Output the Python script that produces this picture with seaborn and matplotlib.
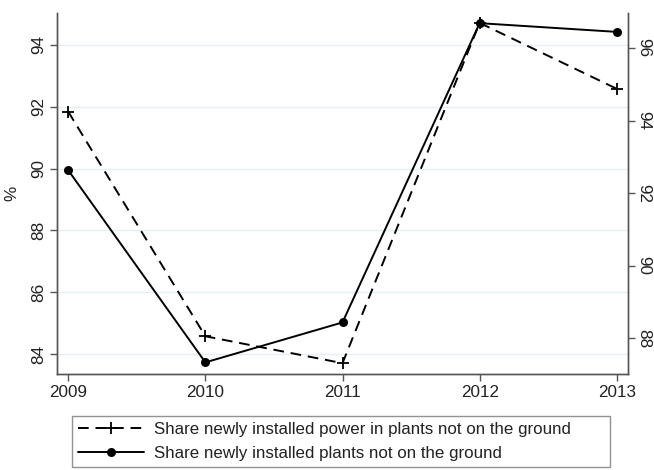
import matplotlib
matplotlib.use("Agg")
import matplotlib.pyplot as plt
import seaborn as sns
import pandas as pd
from matplotlib.lines import Line2D

years = [2009, 2010, 2011, 2012, 2013]
share_power = [91.84, 84.58, 83.71, 94.71, 92.58]   # left axis (%)
share_plants = [92.63, 87.34, 88.44, 96.68, 96.44]  # right axis (%)
left_ticks = [84, 86, 88, 90, 92, 94]
right_ticks = [88, 90, 92, 94, 96]
label_power = "Share newly installed power in plants not on the ground"
label_plants = "Share newly installed plants not on the ground"

sns.set_theme(style="white")
plt.rcParams["font.family"] = ["Liberation Sans", "DejaVu Sans"]
text_col = "#222222"
spine_col = "#555555"
grid_col = "#e6eff1"
dash = (0, (5.5, 3.5))

df = pd.DataFrame({"year": years, "power": share_power, "plants": share_plants})

fig = plt.figure(figsize=(6.54, 4.70), dpi=100)
ax = fig.add_axes([57 / 654, 1 - 374 / 470, (628 - 57) / 654, (374 - 13) / 470])

sns.lineplot(data=df, x="year", y="power", ax=ax, color="black", lw=1.4,
             linestyle=dash, marker="+", markersize=8, markeredgewidth=1.3,
             markeredgecolor="black", legend=False)
ax.set_ylim(83.36, 95.03)
ax.set_xlim(2008.918, 2013.082)
ax.set_yticks(left_ticks)
ax.set_yticklabels([str(t) for t in left_ticks], rotation=90, va="center")
ax.set_xticks(years)
ax.set_xticklabels([str(y) for y in years])
ax.set_xlabel("")
ax.set_ylabel("%", fontsize=12.3, color=text_col, labelpad=8)
ax.grid(axis="y", color=grid_col, lw=1.0)
ax.set_axisbelow(True)

ax2 = ax.twinx()
sns.lineplot(data=df, x="year", y="plants", ax=ax2, color="black", lw=1.4,
             marker="o", markersize=6.5, markeredgewidth=0, legend=False)
ax2.set_ylim(87.02, 96.96)
ax2.set_yticks(right_ticks)
ax2.set_yticklabels([str(t) for t in right_ticks], rotation=-90, va="center")
ax2.set_ylabel("")
ax2.grid(False)

for a in (ax, ax2):
    a.spines["top"].set_visible(False)
    for s in ("left", "right", "bottom"):
        a.spines[s].set_color(spine_col)
        a.spines[s].set_linewidth(1.0)
    a.tick_params(axis="both", which="major", length=5, width=1.0,
                  color=spine_col, labelsize=12.3, labelcolor=text_col,
                  pad=3)
ax.tick_params(axis="y", left=True, right=False)
ax.tick_params(axis="x", bottom=True)
ax2.tick_params(axis="y", right=True, left=False, pad=1)

handles = [
    Line2D([], [], color="black", lw=1.4, linestyle=dash, marker="+",
           markersize=8, markeredgewidth=1.3),
    Line2D([], [], color="black", lw=1.4, marker="o", markersize=6.5,
           markeredgewidth=0),
]
leg = fig.legend(handles, [label_power, label_plants], loc="upper left",
                 bbox_to_anchor=(72 / 654, 1 - 416 / 470 - 0.01, 538 / 654, 0.01),
                 mode="expand", frameon=True, fancybox=False, fontsize=12.2,
                 handlelength=3.9, handletextpad=0.6, borderpad=0.35,
                 labelspacing=0.55, borderaxespad=0)
leg.get_frame().set_edgecolor("#777777")
leg.get_frame().set_linewidth(1.0)
for t in leg.get_texts():
    t.set_color(text_col)

fig.savefig("out.png", dpi=100, facecolor="white")
